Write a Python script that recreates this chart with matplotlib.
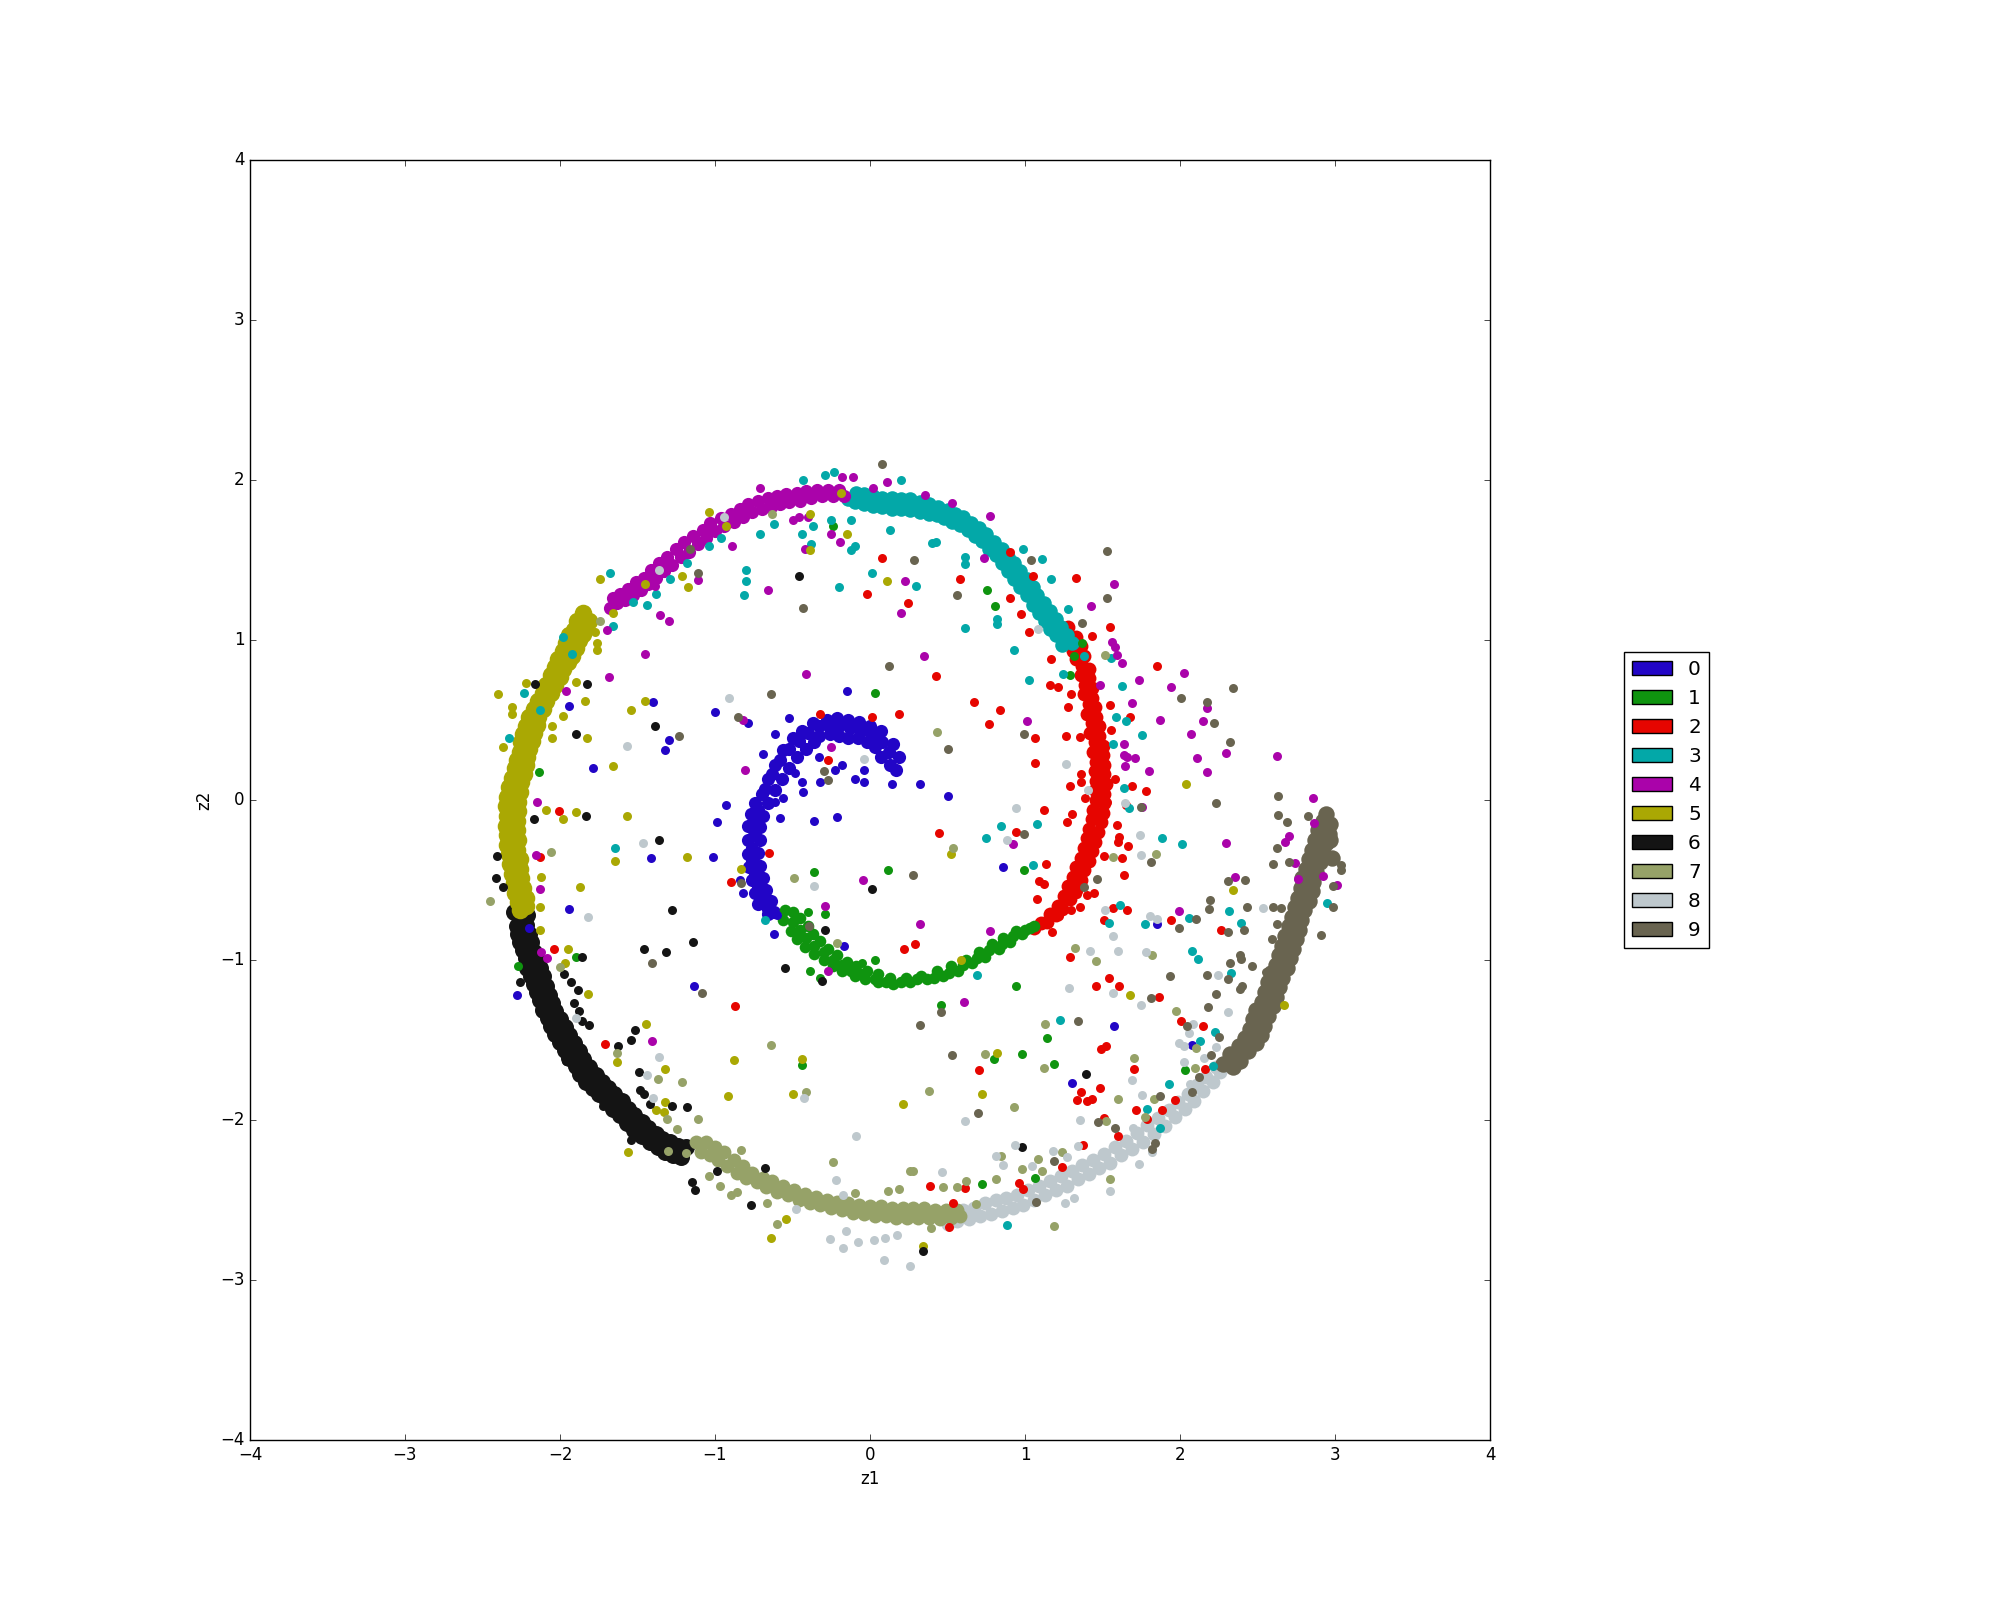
import matplotlib
matplotlib.use("Agg")
import matplotlib.pyplot as plt
from matplotlib.patches import Patch

plt.style.use("classic")

labels = ["0", "1", "2", "3", "4", "5", "6", "7", "8", "9"]
colors = ["#2205c6", "#0f940f", "#e60500", "#03a8a8", "#aa03aa",
          "#aaa803", "#141414", "#96a268", "#bec8cd", "#696450"]
ticks = [-4, -3, -2, -1, 0, 1, 2, 3, 4]

# dense part of the spiral, class by class
arm_0 = [(0.17,0.19),(0.13,0.22),(0.19,0.27),(0.12,0.30),(0.07,0.27),(0.15,0.35),(0.08,0.36),(0.03,0.33),(0.07,0.43),(0.01,0.40),
         (-0.02,0.36),(0.0,0.46),(-0.06,0.43),(-0.08,0.39),(-0.07,0.49),(-0.13,0.45),(-0.14,0.39),(-0.14,0.50),(-0.2,0.46),(-0.2,0.40),
         (-0.21,0.51),(-0.27,0.47),(-0.26,0.41),(-0.28,0.50),(-0.33,0.46),(-0.33,0.40),(-0.37,0.48),(-0.4,0.42),(-0.36,0.36),(-0.44,0.43),
         (-0.46,0.37),(-0.41,0.32),(-0.5,0.39),(-0.52,0.32),(-0.47,0.27),(-0.56,0.31),(-0.58,0.25),(-0.52,0.2),(-0.61,0.22),(-0.63,0.16),
         (-0.57,0.13),(-0.66,0.13),(-0.68,0.07),(-0.61,0.06),(-0.7,0.04),(-0.74,-0.02),(-0.66,-0.02),(-0.72,-0.06),(-0.77,-0.09),(-0.69,-0.1),
         (-0.74,-0.14),(-0.79,-0.16),(-0.71,-0.17),(-0.75,-0.22),(-0.79,-0.25),(-0.71,-0.25),(-0.76,-0.3),(-0.79,-0.34),(-0.72,-0.33),(-0.76,-0.38),
         (-0.78,-0.42),(-0.71,-0.41),(-0.74,-0.46),(-0.76,-0.5),(-0.69,-0.49),(-0.72,-0.54),(-0.74,-0.58),(-0.67,-0.56),(-0.69,-0.62),(-0.72,-0.65),
         (-0.64,-0.63),(-0.66,-0.68),(-0.66,-0.71),(-0.62,-0.7)]
arm_1 = [(-0.55,-0.69),(-0.5,-0.7),(-0.56,-0.75),(-0.5,-0.76),(-0.45,-0.74),(-0.51,-0.82),(-0.45,-0.81),(-0.4,-0.79),(-0.47,-0.87),(-0.41,-0.86),
         (-0.37,-0.84),(-0.42,-0.92),(-0.36,-0.91),(-0.32,-0.88),(-0.36,-0.96),(-0.3,-0.95),(-0.27,-0.93),(-0.3,-1.0),(-0.24,-1.0),(-0.21,-0.97),
         (-0.24,-1.04),(-0.18,-1.03),(-0.15,-1.01),(-0.18,-1.07),(-0.12,-1.07),(-0.09,-1.04),(-0.1,-1.1),(-0.05,-1.09),(-0.02,-1.07),(-0.03,-1.12),
         (0.03,-1.12),(0.05,-1.09),(0.05,-1.14),(0.1,-1.14),(0.13,-1.11),(0.15,-1.15),(0.2,-1.14),(0.23,-1.11),(0.26,-1.14),(0.3,-1.12),
         (0.33,-1.1),(0.37,-1.12),(0.41,-1.11),(0.43,-1.07),(0.47,-1.1),(0.51,-1.08),(0.52,-1.04),(0.57,-1.07),(0.6,-1.03),(0.62,-1.0),
         (0.66,-1.02),(0.69,-0.99),(0.7,-0.95),(0.74,-0.98),(0.77,-0.94),(0.79,-0.9),(0.83,-0.93),(0.85,-0.9),(0.86,-0.86),(0.9,-0.89),
         (0.92,-0.85),(0.94,-0.82),(0.98,-0.84),(1.0,-0.81),(1.03,-0.8),(1.06,-0.79)]
arm_2 = [(1.06,-0.8),(1.1,-0.77),(1.14,-0.76),(1.16,-0.71),(1.2,-0.72),(1.21,-0.66),(1.24,-0.68),(1.25,-0.6),(1.29,-0.62),(1.28,-0.54),
         (1.33,-0.56),(1.31,-0.48),(1.36,-0.5),(1.33,-0.42),(1.38,-0.44),(1.36,-0.36),(1.41,-0.38),(1.38,-0.3),(1.43,-0.32),(1.4,-0.24),
         (1.45,-0.26),(1.41,-0.18),(1.47,-0.2),(1.43,-0.12),(1.49,-0.14),(1.44,-0.06),(1.5,-0.08),(1.46,0.0),(1.51,-0.02),(1.45,0.06),
         (1.51,0.04),(1.46,0.12),(1.52,0.1),(1.45,0.18),(1.51,0.16),(1.46,0.24),(1.51,0.22),(1.44,0.3),(1.5,0.28),(1.45,0.36),
         (1.5,0.34),(1.42,0.42),(1.48,0.4),(1.43,0.48),(1.48,0.46),(1.4,0.54),(1.46,0.52),(1.41,0.6),(1.45,0.58),(1.38,0.66),
         (1.43,0.64),(1.39,0.72),(1.43,0.7),(1.36,0.78),(1.41,0.76),(1.37,0.84),(1.41,0.82),(1.33,0.88),(1.38,0.9),(1.31,0.93),
         (1.36,0.96),(1.28,0.98),(1.33,1.02),(1.25,1.04),(1.28,1.08)]
arm_3 = [(1.3,0.98),(1.24,0.97),(1.27,1.03),(1.2,1.03),(1.23,1.08),(1.16,1.07),(1.2,1.13),(1.13,1.12),(1.16,1.18),(1.09,1.17),
         (1.12,1.23),(1.05,1.22),(1.08,1.28),(1.01,1.28),(1.05,1.33),(0.97,1.33),(1.01,1.38),(0.93,1.38),(0.97,1.43),(0.89,1.43),
         (0.93,1.48),(0.85,1.48),(0.89,1.52),(0.81,1.53),(0.85,1.57),(0.77,1.57),(0.8,1.61),(0.72,1.62),(0.75,1.66),(0.68,1.65),
         (0.7,1.7),(0.63,1.69),(0.65,1.73),(0.58,1.72),(0.6,1.77),(0.53,1.74),(0.55,1.79),(0.48,1.76),(0.5,1.81),(0.43,1.78),
         (0.44,1.83),(0.38,1.79),(0.38,1.85),(0.32,1.8),(0.32,1.86),(0.26,1.81),(0.26,1.88),(0.2,1.82),(0.2,1.88),(0.14,1.82),
         (0.14,1.89),(0.08,1.83),(0.08,1.89),(0.02,1.84),(0.02,1.9),(-0.04,1.85),(-0.04,1.91),(-0.1,1.86),(-0.09,1.92),(-0.14,1.88)]
arm_4 = [(-0.17,1.9),(-0.2,1.94),(-0.24,1.9),(-0.27,1.94),(-0.31,1.9),(-0.34,1.94),(-0.38,1.89),(-0.41,1.93),(-0.45,1.87),(-0.47,1.92),
         (-0.52,1.86),(-0.54,1.91),(-0.58,1.85),(-0.6,1.9),(-0.64,1.83),(-0.66,1.89),(-0.7,1.82),(-0.72,1.87),(-0.76,1.8),(-0.79,1.85),
         (-0.82,1.77),(-0.84,1.82),(-0.88,1.74),(-0.9,1.79),(-0.94,1.71),(-0.96,1.76),(-1.0,1.68),(-1.03,1.73),(-1.06,1.64),(-1.08,1.69),
         (-1.11,1.6),(-1.14,1.65),(-1.17,1.55),(-1.2,1.61),(-1.22,1.52),(-1.25,1.57),(-1.28,1.47),(-1.31,1.52),(-1.33,1.43),(-1.36,1.48),
         (-1.38,1.39),(-1.41,1.44),(-1.43,1.35),(-1.46,1.39),(-1.48,1.31),(-1.51,1.36),(-1.53,1.28),(-1.56,1.32),(-1.58,1.25),(-1.61,1.29),
         (-1.63,1.23),(-1.66,1.26),(-1.68,1.2)]
arm_5 = [(-1.81,1.12),(-1.85,1.17),(-1.84,1.08),(-1.89,1.12),(-1.85,1.04),(-1.91,1.06),(-1.88,1.0),(-1.94,1.03),(-1.9,0.95),(-1.96,0.98),
         (-1.92,0.9),(-1.98,0.93),(-1.95,0.86),(-2.01,0.88),(-1.98,0.82),(-2.03,0.83),(-2.0,0.77),(-2.06,0.78),(-2.03,0.72),(-2.09,0.72),
         (-2.06,0.67),(-2.11,0.67),(-2.09,0.62),(-2.14,0.62),(-2.11,0.57),(-2.17,0.57),(-2.14,0.52),(-2.2,0.52),(-2.15,0.47),(-2.22,0.46),
         (-2.17,0.42),(-2.24,0.41),(-2.18,0.37),(-2.25,0.36),(-2.2,0.32),(-2.26,0.3),(-2.21,0.27),(-2.28,0.25),(-2.22,0.22),(-2.29,0.2),
         (-2.23,0.16),(-2.31,0.14),(-2.25,0.11),(-2.33,0.08),(-2.26,0.05),(-2.34,0.02),(-2.27,-0.01),(-2.35,-0.04),(-2.27,-0.07),(-2.34,-0.1),
         (-2.28,-0.13),(-2.35,-0.16),(-2.28,-0.19),(-2.34,-0.22),(-2.27,-0.25),(-2.34,-0.28),(-2.28,-0.31),(-2.33,-0.34),(-2.26,-0.37),(-2.32,-0.4),
         (-2.26,-0.43),(-2.31,-0.46),(-2.25,-0.49),(-2.3,-0.52),(-2.24,-0.55),(-2.29,-0.58),(-2.22,-0.61),(-2.27,-0.64),(-2.22,-0.66),(-2.26,-0.69)]
arm_6 = [(-2.3,-0.7),(-2.26,-0.74),(-2.21,-0.72),(-2.28,-0.79),(-2.22,-0.78),(-2.27,-0.84),(-2.2,-0.84),(-2.26,-0.89),(-2.19,-0.89),(-2.24,-0.94),
         (-2.17,-0.95),(-2.22,-0.99),(-2.15,-1.0),(-2.21,-1.05),(-2.13,-1.05),(-2.19,-1.1),(-2.11,-1.1),(-2.17,-1.15),(-2.09,-1.16),(-2.15,-1.2),
         (-2.07,-1.22),(-2.13,-1.25),(-2.05,-1.27),(-2.11,-1.31),(-2.03,-1.32),(-2.08,-1.36),(-2.0,-1.37),(-2.06,-1.41),(-1.97,-1.42),(-2.03,-1.46),
         (-1.94,-1.47),(-2.0,-1.51),(-1.91,-1.52),(-1.97,-1.56),(-1.88,-1.57),(-1.94,-1.61),(-1.85,-1.62),(-1.9,-1.66),(-1.81,-1.67),(-1.87,-1.71),
         (-1.77,-1.72),(-1.83,-1.76),(-1.73,-1.76),(-1.79,-1.8),(-1.69,-1.8),(-1.75,-1.84),(-1.65,-1.84),(-1.7,-1.88),(-1.6,-1.88),(-1.66,-1.93),
         (-1.56,-1.93),(-1.61,-1.97),(-1.52,-1.97),(-1.57,-2.02),(-1.47,-2.01),(-1.52,-2.06),(-1.43,-2.05),(-1.47,-2.1),(-1.38,-2.09),(-1.42,-2.14),
         (-1.34,-2.12),(-1.37,-2.17),(-1.29,-2.14),(-1.32,-2.2),(-1.24,-2.16),(-1.27,-2.22),(-1.19,-2.17),(-1.22,-2.23)]
arm_7 = [(-1.12,-2.14),(-1.09,-2.2),(-1.06,-2.14),(-1.03,-2.22),(-1.0,-2.17),(-0.98,-2.25),(-0.94,-2.2),(-0.92,-2.29),(-0.88,-2.25),(-0.86,-2.33),
         (-0.82,-2.29),(-0.8,-2.36),(-0.76,-2.33),(-0.73,-2.39),(-0.69,-2.36),(-0.67,-2.42),(-0.63,-2.38),(-0.6,-2.45),(-0.56,-2.41),(-0.53,-2.47),
         (-0.49,-2.44),(-0.46,-2.5),(-0.42,-2.46),(-0.39,-2.52),(-0.35,-2.48),(-0.32,-2.53),(-0.28,-2.5),(-0.25,-2.55),(-0.21,-2.51),(-0.18,-2.56),
         (-0.14,-2.52),(-0.11,-2.58),(-0.07,-2.53),(-0.04,-2.59),(0.0,-2.54),(0.03,-2.6),(0.07,-2.54),(0.1,-2.6),(0.14,-2.55),(0.17,-2.61),
         (0.21,-2.55),(0.24,-2.61),(0.28,-2.55),(0.31,-2.61),(0.35,-2.55),(0.38,-2.61),(0.42,-2.56),(0.45,-2.62),(0.49,-2.56),(0.52,-2.61),
         (0.56,-2.56),(0.58,-2.6)]
arm_8 = [(0.5,-2.65),(0.56,-2.63),(0.6,-2.56),(0.64,-2.62),(0.67,-2.55),(0.71,-2.6),(0.74,-2.52),(0.78,-2.59),(0.81,-2.5),(0.85,-2.57),
         (0.88,-2.49),(0.92,-2.55),(0.95,-2.47),(0.99,-2.53),(1.02,-2.44),(1.06,-2.5),(1.09,-2.41),(1.13,-2.47),(1.16,-2.38),(1.2,-2.44),
         (1.23,-2.35),(1.27,-2.41),(1.3,-2.32),(1.34,-2.37),(1.37,-2.28),(1.41,-2.34),(1.44,-2.25),(1.48,-2.3),(1.51,-2.21),(1.55,-2.27),
         (1.58,-2.17),(1.62,-2.22),(1.65,-2.13),(1.69,-2.18),(1.72,-2.08),(1.76,-2.14),(1.79,-2.03),(1.83,-2.09),(1.86,-1.99),(1.9,-2.04),
         (1.93,-1.94),(1.97,-1.98),(1.99,-1.89),(2.03,-1.93),(2.05,-1.84),(2.09,-1.88),(2.11,-1.78),(2.15,-1.82),(2.17,-1.73),(2.21,-1.76),
         (2.23,-1.67),(2.26,-1.7)]
arm_9 = [(2.28,-1.65),(2.34,-1.67),(2.32,-1.59),(2.39,-1.63),(2.38,-1.54),(2.44,-1.57),(2.42,-1.49),(2.49,-1.52),(2.45,-1.43),(2.52,-1.47),
         (2.47,-1.37),(2.54,-1.41),(2.49,-1.31),(2.57,-1.35),(2.53,-1.26),(2.6,-1.29),(2.55,-1.2),(2.62,-1.23),(2.57,-1.14),(2.64,-1.17),
         (2.59,-1.08),(2.66,-1.11),(2.62,-1.03),(2.69,-1.05),(2.64,-0.97),(2.71,-0.99),(2.66,-0.91),(2.73,-0.93),(2.68,-0.85),(2.75,-0.87),
         (2.7,-0.79),(2.77,-0.81),(2.72,-0.73),(2.78,-0.75),(2.74,-0.67),(2.8,-0.69),(2.76,-0.61),(2.83,-0.63),(2.78,-0.55),(2.85,-0.57),
         (2.79,-0.49),(2.86,-0.51),(2.81,-0.43),(2.88,-0.45),(2.83,-0.37),(2.9,-0.39),(2.85,-0.31),(2.92,-0.33),(2.87,-0.25),(2.94,-0.27),
         (2.89,-0.19),(2.96,-0.21),(2.92,-0.13),(2.97,-0.15),(2.94,-0.09),(2.98,-0.36),(2.97,-0.25)]

# points off the spiral
stray_0 = [(-1.94,0.59),(-1.40,0.61),(-1.30,0.375),(-1.32,0.31),(-1.79,0.20),(-1.0,0.55),(-0.79,0.48),(-0.15,0.68),(-0.61,0.41),(-0.525,0.51),
           (-0.93,-0.03),(-0.985,-0.14),(-0.58,-0.11),(-0.36,-0.13),(-0.21,-0.105),(-0.43,0.05),(-0.44,0.11),(-0.32,0.11),(-0.10,0.13),(-0.04,0.11),
           (0.14,0.10),(-0.485,0.17),(-0.225,0.19),(-0.04,0.19),(-0.33,0.27),(-0.18,0.22),(-0.56,0.01),(-0.61,-0.01),(-0.69,0.285),(0.325,0.10),
           (0.50,0.025),(-1.41,-0.36),(-1.01,-0.355),(-1.94,-0.68),(-2.2,-0.80),(-2.275,-1.22),(-1.136,-1.16),(-0.84,-0.50),(-0.82,-0.58),(-0.62,-0.84),
           (-0.60,-0.72),(-0.165,-0.91),(0.856,-0.417),(1.575,-1.41),(1.30,-1.77),(1.85,-0.775),(2.08,-1.53)]
stray_1 = [(-0.24,1.715),(0.035,0.67),(-2.135,0.175),(0.757,1.31),(0.807,1.215),(1.366,0.98),(1.316,0.90),(1.29,0.78),(-0.36,-0.45),(0.116,-0.44),
           (-1.90,-0.98),(-2.27,-1.035),(-0.29,-0.71),(-0.39,-1.07),(-0.325,-1.11),(-0.05,-1.02),(0.03,-1.0),(-0.40,-0.70),(-0.44,-1.656),(0.996,-0.44),
           (0.944,-1.16),(0.456,-1.28),(1.14,-1.49),(0.80,-1.62),(0.98,-1.59),(1.19,-1.65),(2.03,-1.69),(0.725,-2.40),(1.065,-2.36)]
stray_2 = [(0.08,1.51),(-0.02,1.285),(0.247,1.23),(-0.325,0.54),(0.01,0.52),(0.187,0.54),(-0.27,0.25),(-2.005,-0.07),(1.327,1.39),(1.55,1.08),
           (1.433,1.025),(0.904,1.55),(0.583,1.38),(0.904,1.26),(0.973,1.16),(1.024,1.05),(1.05,1.40),(1.168,0.88),(1.162,0.72),(1.215,0.706),
           (1.295,0.66),(1.28,0.58),(1.854,0.84),(0.426,0.777),(0.669,0.615),(0.841,0.56),(0.77,0.473),(1.065,0.385),(1.263,0.40),(1.355,0.395),
           (1.065,0.233),(1.364,0.16),(1.36,0.11),(1.29,0.087),(1.549,0.594),(1.678,0.52),(1.555,0.44),(1.58,0.13),(1.69,0.09),(1.779,0.054),
           (1.53,-0.01),(1.39,0.01),(1.123,-0.065),(1.306,-0.09),(1.273,-0.135),(1.594,-0.154),(0.448,-0.206),(0.94,-0.20),(1.607,-0.23),(1.65,-0.03),
           (-2.13,-0.354),(-2.04,-0.933),(-1.71,-1.525),(-0.90,-0.515),(-0.65,-0.33),(-0.873,-1.29),(0.22,-0.93),(1.136,-0.398),(0.289,-0.90),(1.093,-0.504),
           (1.125,-0.527),(1.078,-0.62),(1.175,-0.823),(1.598,-0.26),(1.665,-0.29),(1.626,-0.36),(1.51,-0.35),(1.64,-0.47),(1.338,-0.588),(1.403,-0.594),
           (1.448,-0.58),(1.357,-0.667),(1.295,-0.69),(1.218,-0.725),(1.566,-0.677),(1.656,-0.685),(1.512,-0.75),(1.94,-0.75),(2.265,-0.81),(1.293,-0.98),
           (1.545,-1.115),(1.46,-1.16),(1.605,-1.16),(1.865,-1.23),(2.007,-1.383),(2.147,-1.415),(1.49,-1.558),(1.523,-1.54),(0.706,-1.69),(1.70,-1.683),
           (2.16,-1.68),(1.486,-1.80),(1.362,-1.823),(1.338,-1.877),(1.40,-1.883),(1.43,-1.87),(1.719,-1.94),(1.882,-1.935),(1.966,-1.877),(1.785,-1.996),
           (1.51,-1.99),(1.598,-2.10),(1.375,-2.154),(1.239,-2.296),(0.964,-2.396),(0.388,-2.41),(0.613,-2.425),(0.538,-2.52),(0.99,-2.43),(0.512,-2.667)]
stray_3 = [(-1.68,1.42),(-1.18,1.48),(-1.29,1.38),(-1.38,1.29),(-1.44,1.22),(-1.53,1.235),(-1.66,1.09),(-0.96,1.64),(-1.04,1.59),(-0.71,1.66),
           (-0.62,1.725),(-0.80,1.44),(-0.80,1.37),(-0.81,1.28),(-0.44,1.66),(-0.38,1.60),(-0.37,1.71),(-0.25,1.75),(-0.12,1.56),(-0.10,1.59),
           (-0.12,1.75),(0.01,1.42),(-0.20,1.33),(-1.92,0.91),(-1.98,1.02),(-2.23,0.67),(-2.33,0.385),(-2.13,0.56),(-0.23,2.05),(-0.29,2.03),
           (-0.43,2.0),(0.20,2.0),(0.13,1.69),(0.61,1.073),(0.927,0.935),(1.024,0.752),(0.818,1.13),(0.818,1.10),(0.297,1.34),(1.244,0.787),
           (1.553,0.89),(1.381,0.898),(1.628,0.712),(1.59,0.517),(1.65,0.496),(1.753,0.408),(1.57,0.352),(1.639,0.077),(1.674,-0.048),(0.848,-0.16),
           (1.076,-0.152),(0.751,-0.24),(1.887,-0.235),(0.398,1.604),(0.426,1.615),(0.985,1.569),(1.108,1.504),(1.168,1.38),(0.611,1.517),(0.615,1.473),
           (1.278,1.192),(-1.645,-0.30),(-0.68,-0.752),(1.05,-0.406),(0.693,-1.096),(1.228,-1.377),(1.615,-0.658),(1.54,-0.77),(1.775,-0.775),(2.06,-0.74),
           (2.319,-0.694),(2.396,-0.767),(2.078,-0.944),(2.119,-0.994),(2.327,-1.083),(2.228,-1.448),(2.13,-1.504),(2.215,-1.66),(1.927,-1.775),(1.788,-1.933),
           (1.874,-2.052),(0.882,-2.658),(2.015,-0.277),(2.95,-0.645)]
stray_4 = [(-0.893,1.59),(-1.30,1.12),(-1.355,1.155),(-1.70,1.06),(-1.45,0.91),(-1.685,0.77),(-0.66,1.315),(-1.11,1.375),(-1.39,1.34),(-0.25,1.66),
           (-0.195,1.61),(-0.42,1.57),(0.225,1.37),(0.20,1.17),(-0.415,0.79),(-0.82,0.50),(-0.25,0.33),(-0.805,0.19),(-2.15,-0.01),(-1.96,0.68),
           (-0.18,2.02),(-0.11,2.02),(0.11,1.99),(-0.50,1.75),(-0.46,1.77),(-0.40,1.77),(-0.71,1.95),(0.02,1.95),(0.775,1.773),(0.527,1.854),
           (0.357,1.906),(1.424,1.21),(1.572,1.348),(0.349,0.902),(0.736,1.512),(1.56,0.985),(1.583,0.956),(1.596,0.906),(1.626,0.856),(2.028,0.796),
           (1.736,0.752),(1.942,0.706),(1.484,0.719),(1.689,0.608),(2.177,0.575),(1.871,0.50),(2.147,0.494),(2.069,0.415),(1.013,0.492),(1.639,0.352),
           (1.639,0.279),(1.659,0.27),(1.708,0.265),(1.643,0.215),(1.80,0.183),(2.112,0.26),(2.295,0.296),(2.177,0.177),(2.626,0.277),(2.856,0.0125),
           (2.863,-0.146),(1.755,-0.046),(2.706,-0.223),(-2.155,-0.346),(-2.13,-0.554),(-2.12,-0.948),(-2.082,-0.988),(-1.405,-1.504),(-0.293,-0.6625),(-0.048,-0.498),
           (-0.27,-1.07),(0.321,-0.777),(0.772,-0.817),(0.609,-1.26),(0.925,-0.275),(2.295,-0.27),(2.678,-0.26),(1.994,-0.694),(2.742,-0.394),(2.764,-0.494),
           (2.357,-0.479),(2.921,-0.475),(3.011,-0.533)]
stray_5 = [(-1.74,1.38),(-1.215,1.40),(-1.175,1.33),(-1.45,1.35),(-0.15,1.66),(0.11,1.37),(-0.39,1.79),(-0.39,1.56),(-0.19,1.92),(-1.04,1.80),
           (-0.93,1.71),(-2.40,0.66),(-2.31,0.58),(-2.31,0.54),(-2.37,0.33),(-2.22,0.73),(-1.90,0.74),(-1.84,0.62),(-1.98,0.525),(-2.05,0.46),
           (-2.05,0.39),(-1.825,0.39),(-1.45,0.62),(-1.54,0.56),(-1.66,0.21),(-2.09,-0.06),(-1.98,-0.12),(-1.895,-0.075),(-1.57,-0.10),(-1.76,0.98),
           (-1.76,0.94),(-1.775,1.05),(-1.85,1.175),(-1.66,1.17),(-1.645,-0.38),(-1.18,-0.355),(-2.125,-0.48),(-1.87,-0.545),(-0.835,-0.43),(-1.95,-0.93),
           (-1.97,-1.02),(-1.82,-1.21),(-1.445,-1.40),(-1.32,-1.68),(-1.32,-1.89),(-1.33,-1.95),(-1.38,-1.94),(-1.56,-2.20),(-1.63,-1.635),(-0.875,-1.625),
           (-0.44,-1.62),(-0.915,-1.85),(-0.50,-1.84),(0.21,-1.90),(-0.54,-2.62),(-0.64,-2.74),(-2.13,-0.67),(-2.13,-0.81),(0.52,-0.34),(1.68,-1.22),
           (0.82,-1.58),(0.725,-1.84),(2.345,-0.56),(2.67,-1.28),(0.345,-2.79),(0.59,-1.0),(2.04,0.10)]
stray_6 = [(-2.16,0.725),(-1.825,0.725),(-1.385,0.46),(-1.90,0.41),(-0.46,1.40),(-2.165,-0.12),(-1.83,-0.10),(-1.36,-0.25),(-2.405,-0.35),(-2.41,-0.49),
           (-2.365,-0.545),(-1.28,-0.69),(-1.456,-0.93),(-1.315,-0.95),(-1.14,-0.885),(-0.55,-1.05),(-0.31,-1.13),(-0.29,-0.81),(0.01,-0.555),(-1.86,-0.98),
           (-1.975,-1.09),(-1.93,-1.14),(-1.885,-1.19),(-2.26,-1.14),(-1.91,-1.27),(-1.88,-1.32),(-1.86,-1.38),(-1.81,-1.405),(-1.96,-1.63),(-1.625,-1.54),
           (-1.54,-1.50),(-1.515,-1.44),(-1.49,-1.70),(-1.72,-1.91),(-1.485,-1.81),(-1.46,-1.84),(-1.42,-1.90),(-1.28,-1.91),(-1.18,-1.92),(-1.54,-2.125),
           (-1.15,-2.385),(-1.13,-2.44),(-0.77,-2.53),(-0.68,-2.30),(-0.985,-2.32),(1.395,-1.715),(0.98,-2.17),(0.34,-2.82)]
stray_7 = [(-1.74,1.12),(-0.635,1.79),(0.435,0.427),(1.517,0.906),(-2.06,-0.325),(-2.454,-0.63),(-0.488,-0.49),(-0.215,-0.896),(-2.0,-1.046),(-1.635,-1.583),
           (-1.366,-1.746),(-1.211,-1.76),(-0.641,-1.529),(-0.413,-1.823),(-1.108,-1.996),(-1.248,-2.056),(-1.312,-1.996),(-1.304,-2.194),(-1.185,-2.208),(-0.83,-2.19),
           (-0.239,-2.265),(0.258,-2.32),(-1.041,-2.348),(-0.968,-2.415),(-0.9,-2.47),(-0.86,-2.448),(-0.667,-2.517),(-0.598,-2.652),(-0.1,-2.454),(0.187,-2.431),
           (0.116,-2.444),(0.538,-0.298),(1.57,-0.358),(1.846,-0.3375),(1.321,-0.927),(1.459,-1.008),(1.818,-0.967),(1.975,-1.317),(1.127,-1.4),(0.74,-1.5875),
           (1.125,-1.675),(0.383,-1.817),(0.927,-1.919),(1.706,-1.61),(2.099,-1.677),(2.101,-1.55),(1.603,-1.871),(1.835,-1.867),(1.777,-1.979),(1.523,-2.006),
           (1.084,-2.244),(0.843,-2.227),(1.237,-2.198),(1.112,-2.321),(0.983,-2.304),(0.815,-2.367),(0.62,-2.381),(0.276,-2.319),(0.474,-2.417),(0.56,-2.417),
           (1.185,-2.6625),(1.551,-2.371),(0.686,-2.525),(0.394,-2.677)]
stray_8 = [(-0.94,1.767),(-0.912,0.635),(-1.57,0.337),(-0.041,0.256),(-1.36,1.44),(1.082,1.069),(1.267,0.223),(0.942,-0.048),(1.74,-0.219),(0.882,-0.25),
           (1.405,0.0625),(1.648,-0.017),(-1.463,-0.267),(-1.817,-0.731),(-0.362,-0.54),(-1.895,-1.365),(-1.362,-1.608),(-1.441,-1.719),(-1.40,-1.865),(-0.426,-1.86),
           (-0.093,-2.10),(-0.222,-2.375),(-0.172,-2.469),(-0.476,-2.556),(-0.157,-2.694),(-0.256,-2.742),(-0.177,-2.8),(-0.08,-2.76),(0.025,-2.752),(0.094,-2.74),
           (0.176,-2.72),(0.09,-2.877),(0.258,-2.91),(1.749,-0.344),(1.517,-0.685),(1.57,-0.85),(1.42,-0.946),(1.603,-0.942),(1.779,-0.95),(1.805,-0.725),
           (1.85,-0.742),(1.282,-1.177),(1.568,-1.208),(1.747,-1.279),(2.248,-1.092),(2.536,-0.673),(2.312,-1.323),(2.084,-1.398),(2.059,-1.458),(1.992,-1.521),
           (2.028,-1.5375),(2.233,-1.546),(2.155,-1.6125),(2.028,-1.64),(1.689,-1.748),(1.753,-1.846),(2.063,-1.777),(1.355,-2.0),(0.613,-2.006),(0.936,-2.158),
           (0.811,-2.223),(0.861,-2.283),(1.046,-2.285),(1.181,-2.196),(1.269,-2.229),(0.467,-2.327),(1.342,-2.16),(1.547,-2.444),(1.317,-2.49),(1.258,-2.52),
           (1.736,-2.273),(1.822,-2.198),(1.699,-2.052)]
stray_9 = [(0.08,2.10),(-1.16,1.57),(-1.11,1.42),(-0.43,1.20),(0.12,0.84),(-0.64,0.66),(-0.85,0.52),(-1.23,0.40),(-0.30,0.18),(-0.27,0.125),
           (1.532,1.556),(1.527,1.265),(1.366,1.106),(1.039,1.498),(0.282,1.498),(0.562,1.279),(2.342,0.702),(2.007,0.635),(2.172,0.6125),(2.218,0.481),
           (2.323,0.36),(0.994,0.415),(0.506,0.317),(2.233,-0.021),(2.633,0.023),(2.63,-0.094),(2.693,-0.135),(2.828,-0.102),(1.747,-0.046),(0.996,-0.21),
           (-1.405,-1.017),(-1.084,-1.206),(-0.833,-0.517),(-0.392,-0.7875),(0.28,-0.469),(0.461,-1.325),(0.325,-1.404),(0.529,-1.592),(1.34,-1.379),(0.695,-1.958),
           (1.467,-0.494),(1.383,-0.546),(1.815,-0.3875),(2.628,-0.302),(2.603,-0.402),(2.704,-0.39),(2.308,-0.504),(2.422,-0.498),(2.192,-0.625),(2.19,-0.681),
           (2.43,-0.671),(1.992,-0.798),(2.104,-0.746),(2.312,-0.823),(2.415,-0.815),(2.603,-0.671),(2.65,-0.677),(2.99,-0.671),(2.91,-0.844),(2.624,-0.777),
           (2.596,-0.869),(2.388,-0.969),(2.396,-0.994),(2.321,-1.019),(2.463,-1.035),(2.553,-1.077),(2.177,-1.094),(1.936,-1.098),(2.308,-1.119),(2.403,-1.16),
           (2.388,-1.181),(2.23,-1.2125),(1.811,-1.235),(2.183,-1.292),(2.048,-1.415),(2.254,-1.483),(2.198,-1.594),(2.121,-1.733),(2.08,-1.827),(1.869,-1.848),
           (1.469,-2.015),(1.579,-2.052),(1.839,-2.146),(1.818,-2.181),(1.19,-2.254),(1.074,-2.5125),(3.037,-0.406),(3.037,-0.4375),(2.99,-0.54)]

arms = [arm_0, arm_1, arm_2, arm_3, arm_4, arm_5, arm_6, arm_7, arm_8, arm_9]
strays = [stray_0, stray_1, stray_2, stray_3, stray_4, stray_5, stray_6, stray_7, stray_8, stray_9]
arm_order = [2, 0, 1, 3, 4, 6, 5, 8, 7, 9]
# the arm lists hold fewer points than the picture, so they get fatter dots to close up into a band
arm_sizes = [90, 70, 100, 110, 90, 160, 150, 100, 100, 140]

fig = plt.figure(figsize=(20, 16), dpi=100, facecolor="white")
ax = fig.add_axes([0.125, 0.1, 0.62, 0.8])

for i in arm_order:
    x, y = zip(*arms[i])
    ax.scatter(x, y, s=arm_sizes[i], c=colors[i], linewidths=0)
for i in range(10):
    x, y = zip(*strays[i])
    ax.scatter(x, y, s=42, c=colors[i], linewidths=0, zorder=1.5)

ax.set_xlim(-4, 4)
ax.set_ylim(-4, 4)
ax.set_xticks(ticks)
ax.set_yticks(ticks)
ax.set_xlabel("z1")
ax.set_ylabel("z2")

handles = [Patch(facecolor=c, edgecolor="k", label=l) for c, l in zip(colors, labels)]
fig.legend(handles=handles, loc="center left", bbox_to_anchor=(0.8070, 0.5), fontsize=14.4)

fig.savefig("out.png", dpi=100, facecolor="white")
